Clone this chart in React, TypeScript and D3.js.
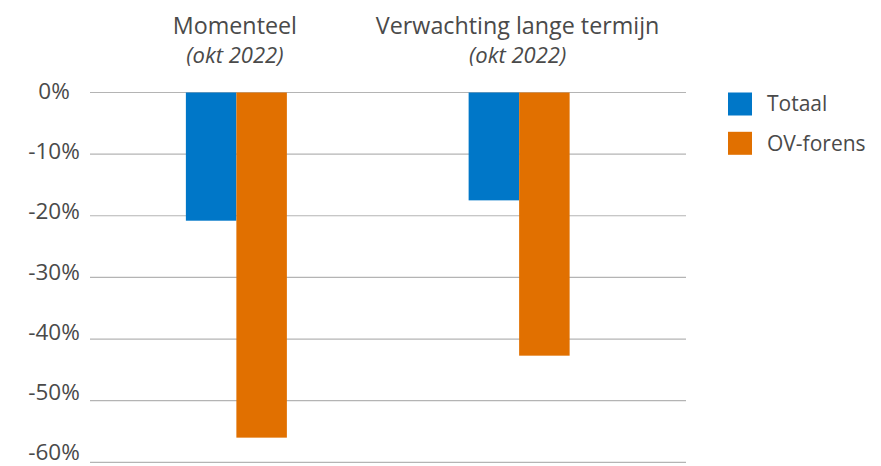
import * as d3 from 'd3';
import React, { useEffect, useRef } from 'react';

const categories = ['Momenteel', 'Verwachting lange termijn'];
const subtitles = ['(okt 2022)', '(okt 2022)'];
const seriesNames = ['Totaal', 'OV-forens'];
const seriesColors = ['#0077c8', '#e17000'];
const totaal = [-20.8, -17.5];
const ovForens = [-56, -42.7];
const yTicks = [0, -10, -20, -30, -40, -50, -60];

const App = () => {
  const svgRef = useRef<SVGSVGElement>(null);

  useEffect(() => {
    const width = 881;
    const height = 466;
    const font = '"Open Sans", sans-serif';
    const textColor = '#4a4a4a';

    const svg = d3.select(svgRef.current).attr('width', width).attr('height', height);
    svg.selectAll('*').remove();

    const y = d3.scaleLinear().domain([-60, 0]).range([462.3, 92.5]);
    // labels staan iets dichter op elkaar dan de rasterlijnen
    const yLabel = d3.scaleLinear().domain([-60, 0]).range([452.5, 91.5]);
    const x0 = d3.scaleBand<string>().domain(categories).range([95, 660.5]).padding(0);
    const x1 = d3.scaleBand<string>().domain(seriesNames).range([0, 101]).padding(0);
    const groupOffset = (x0.bandwidth() - 101) / 2;

    // rasterlijnen
    svg
      .append('g')
      .selectAll('line')
      .data(yTicks)
      .join('line')
      .attr('x1', 90)
      .attr('x2', 686)
      .attr('y1', (d) => y(d))
      .attr('y2', (d) => y(d))
      .attr('stroke', '#b4b4b4')
      .attr('stroke-width', 1.2);

    // y-as labels
    svg
      .append('g')
      .selectAll('text')
      .data(yTicks)
      .join('text')
      .attr('x', 54)
      .attr('y', (d) => yLabel(d))
      .attr('dy', '0.34em')
      .attr('text-anchor', 'middle')
      .attr('font-family', font)
      .attr('font-size', 22.5)
      .attr('fill', textColor)
      .text((d) => `${d}%`);

    // balken
    const values = [totaal, ovForens];
    const groups = svg
      .append('g')
      .selectAll('g')
      .data(categories)
      .join('g')
      .attr('transform', (d) => `translate(${(x0(d) ?? 0) + groupOffset},0)`);

    groups
      .selectAll('rect')
      .data((_, i) => seriesNames.map((s, j) => ({ s, v: values[j][i], c: seriesColors[j] })))
      .join('rect')
      .attr('x', (d) => x1(d.s) ?? 0)
      .attr('width', x1.bandwidth())
      .attr('y', y(0))
      .attr('height', (d) => y(d.v) - y(0))
      .attr('fill', (d) => d.c);

    // titels
    const titles = svg
      .append('g')
      .selectAll('g')
      .data(categories)
      .join('g')
      .attr('transform', (d) => `translate(${(x0(d) ?? 0) + x0.bandwidth() / 2 - 1.5},0)`);

    titles
      .append('text')
      .attr('y', 34)
      .attr('text-anchor', 'middle')
      .attr('font-family', font)
      .attr('font-size', 23.3)
      .attr('fill', textColor)
      .text((d) => d);

    titles
      .append('text')
      .attr('y', 63)
      .attr('text-anchor', 'middle')
      .attr('font-family', font)
      .attr('font-style', 'italic')
      .attr('font-size', 22)
      .attr('fill', textColor)
      .text((_, i) => subtitles[i]);

    // legenda
    const legend = svg
      .append('g')
      .selectAll('g')
      .data(seriesNames)
      .join('g')
      .attr('transform', (_, i) => `translate(728,${92.5 + i * 39.3})`);

    legend
      .append('rect')
      .attr('width', 24)
      .attr('height', 23)
      .attr('fill', (_, i) => seriesColors[i]);

    legend
      .append('text')
      .attr('x', 39)
      .attr('y', 11.5)
      .attr('dy', '0.35em')
      .attr('font-family', font)
      .attr('font-size', 21)
      .attr('fill', textColor)
      .text((d) => d);
  }, []);

  return (
    <div style={{ position: 'fixed', left: 0, top: 0, background: '#fff' }}>
      <svg ref={svgRef} style={{ display: 'block' }} />
    </div>
  );
};

export default App;
